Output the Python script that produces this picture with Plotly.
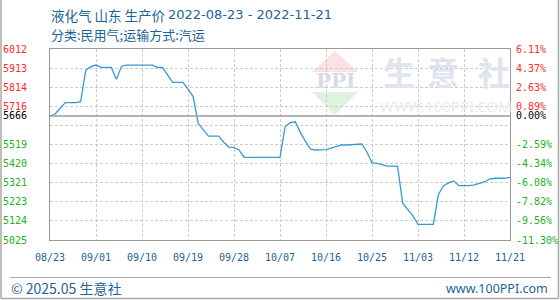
import plotly.graph_objects as go
from datetime import date, timedelta

# ---------------- data ----------------
start_date = "2022-08-23"
prices = [
    5666, 5676, 5706, 5735, 5735, 5735, 5740, 5903, 5921, 5929,
    5917, 5917, 5917, 5855, 5923, 5929, 5929, 5929, 5929, 5929,
    5929, 5917, 5917, 5878, 5840, 5840, 5840, 5805, 5766, 5628,
    5595, 5562, 5562, 5562, 5530, 5505, 5502, 5490, 5452, 5452,
    5452, 5452, 5452, 5452, 5452, 5452, 5611, 5631, 5636, 5580,
    5535, 5494, 5490, 5490, 5492, 5500, 5510, 5516, 5516, 5518,
    5520, 5521, 5480, 5425, 5421, 5412, 5407, 5407, 5407, 5215,
    5180, 5150, 5106, 5106, 5106, 5106, 5260, 5306, 5320, 5330,
    5306, 5306, 5306, 5310, 5316, 5325, 5340, 5344, 5344, 5344,
    5349,
]
base_price = 5666
y_ticks = [6012, 5913, 5814, 5716, 5666, 5617, 5519, 5420, 5321, 5223, 5124, 5025]
y_left_labels = ["6012", "5913", "5814", "5716", "5666", "", "5519", "5420", "5321", "5223", "5124", "5025"]
y_right_labels = ["6.11%", "4.37%", "2.63%", "0.89%", "0.00%", "", "-2.59%", "-4.34%", "-6.08%", "-7.82%", "-9.56%", "-11.30%"]
x_tick_labels = ["08/23", "09/01", "09/10", "09/19", "09/28", "10/07", "10/16", "10/25", "11/03", "11/12", "11/21"]

title_name = "液化气 山东 生产价"
title_dates = "2022-08-23 - 2022-11-21"
title_line2 = "分类:民用气;运输方式:汽运"
footer_left = "© 2025.05 生意社"
footer_right = "www.100PPI.com"

# ---------------- build ----------------
d0 = date.fromisoformat(start_date)
dates = [d0 + timedelta(days=i) for i in range(len(prices))]
x_tick_vals = [d0 + timedelta(days=9 * i) for i in range(len(x_tick_labels))]

RED, GREEN, BLACK = "#ff2a2a", "#22b122", "#000000"


def col(v):
    if v > base_price:
        return RED
    if v < base_price:
        return GREEN
    return BLACK


left_text = [f'<span style="color:{col(v)}">{t}</span>' for v, t in zip(y_ticks, y_left_labels)]
right_text = [f'<span style="color:{col(v)}">{t}</span>' for v, t in zip(y_ticks, y_right_labels)]

LINE = "#3b97d8"
BLUE_TXT = "#1d6496"
GRID = "#cccccc"
BORDER = "#9a9a9a"

fig = go.Figure()
fig.add_trace(go.Scatter(x=dates, y=prices, mode="lines",
                         line=dict(color=LINE, width=1.3), showlegend=False,
                         hoverinfo="skip"))
fig.add_trace(go.Scatter(x=dates, y=prices, mode="lines", yaxis="y2",
                         line=dict(color="rgba(0,0,0,0)", width=0), showlegend=False,
                         hoverinfo="skip"))

W, H = 560, 300
L, R, T, B = 50, 50, 49, 60
pw, ph = W - L - R, H - T - B


def px(x):
    return (x - L) / pw


def py(y):
    return (H - B - y) / ph


tick_font = dict(family="DejaVu Sans Mono", size=10)

fig.update_layout(
    width=W, height=H,
    margin=dict(l=L, r=R, t=T, b=B, pad=0, autoexpand=False),
    paper_bgcolor="white", plot_bgcolor="white",
    xaxis=dict(
        type="date",
        range=[dates[0], dates[-1]],
        tickvals=x_tick_vals, ticktext=x_tick_labels,
        tickfont=dict(family="DejaVu Sans Mono", size=10, color=BLUE_TXT),
        tickangle=0,
        ticks="outside", ticklen=8, tickcolor="rgba(0,0,0,0)",
        showgrid=True, gridcolor=GRID, griddash="3px,2px", gridwidth=1,
        showline=True, mirror=True, linecolor=BORDER, linewidth=1,
        zeroline=False, fixedrange=True, automargin=False,
    ),
    yaxis=dict(
        range=[5025, 6012],
        tickvals=y_ticks, ticktext=left_text,
        tickfont=tick_font,
        ticks="outside", ticklen=20, tickcolor="rgba(0,0,0,0)",
        showgrid=True, gridcolor=GRID, griddash="3px,2px", gridwidth=1,
        showline=True, mirror=True, linecolor=BORDER, linewidth=1,
        zeroline=False, fixedrange=True, automargin=False,
    ),
    yaxis2=dict(
        range=[5025, 6012], overlaying="y", side="right", anchor="x",
        tickvals=y_ticks, ticktext=right_text,
        tickfont=tick_font,
        ticks="outside", ticklen=3, tickcolor="rgba(0,0,0,0)",
        showgrid=False, zeroline=False, showline=False, fixedrange=True,
        automargin=False,
    ),
)

shapes = []
# baseline at base price
shapes.append(dict(type="line", xref="paper", yref="y", x0=0, x1=1,
                   y0=base_price, y1=base_price,
                   line=dict(color="#a0a0a0", width=1.5), layer="above"))
# watermark logo triangles
shapes.append(dict(type="path", xref="paper", yref="paper",
                   path=f"M {px(312)} {py(72)} L {px(335)} {py(51)} L {px(358)} {py(72)} Z",
                   fillcolor="#fbe1e1", line=dict(width=0), layer="below"))
shapes.append(dict(type="path", xref="paper", yref="paper",
                   path=f"M {px(312)} {py(92)} L {px(335)} {py(115)} L {px(358)} {py(92)} Z",
                   fillcolor="#e0f1e0", line=dict(width=0), layer="below"))
# footer separator
shapes.append(dict(type="line", xref="paper", yref="paper",
                   x0=px(10), x1=px(551), y0=py(277.5), y1=py(277.5),
                   line=dict(color="#a8a8a8", width=1)))
# outer frame (left, right, bottom)
shapes.append(dict(type="line", xref="paper", yref="paper",
                   x0=px(1), x1=px(1), y0=py(0), y1=py(298.5),
                   line=dict(color="#a8a8a8", width=1.5)))
shapes.append(dict(type="line", xref="paper", yref="paper",
                   x0=px(558.5), x1=px(558.5), y0=py(0), y1=py(298.5),
                   line=dict(color="#a8a8a8", width=1.5)))
shapes.append(dict(type="line", xref="paper", yref="paper",
                   x0=px(1), x1=px(558.5), y0=py(298.5), y1=py(298.5),
                   line=dict(color="#a8a8a8", width=1.5)))
fig.update_layout(shapes=shapes)

ann = []
cjk = "Noto Sans CJK SC"
ann.append(dict(text=title_name, xref="paper", yref="paper", x=px(49), y=py(15),
                xanchor="left", yanchor="middle", showarrow=False,
                font=dict(family=cjk, size=13.5, color=BLUE_TXT)))
ann.append(dict(text=title_dates, xref="paper", yref="paper", x=px(166), y=py(15),
                xanchor="left", yanchor="middle", showarrow=False,
                font=dict(family="DejaVu Sans", size=13, color=BLUE_TXT)))
ann.append(dict(text=title_line2, xref="paper", yref="paper", x=px(49), y=py(34),
                xanchor="left", yanchor="middle", showarrow=False,
                font=dict(family=cjk, size=13, color=BLUE_TXT)))
ann.append(dict(text=footer_left, xref="paper", yref="paper", x=px(9), y=py(288),
                xanchor="left", yanchor="middle", showarrow=False,
                font=dict(family=cjk, size=14, color=BLUE_TXT)))
ann.append(dict(text=footer_right, xref="paper", yref="paper", x=px(550), y=py(288),
                xanchor="right", yanchor="middle", showarrow=False,
                font=dict(family="Noto Sans", size=12.5, color=BLUE_TXT)))
# watermark text
for ch, cx in zip(["生", "意", "社"], [399, 443, 494]):
    ann.append(dict(text=f"<b>{ch}</b>", xref="paper", yref="paper", x=px(cx), y=py(71),
                    xanchor="center", yanchor="middle", showarrow=False,
                    font=dict(family=cjk, size=32, color="#dfe4ee")))
ann.append(dict(text="WWW.100PPI.COM", xref="paper", yref="paper", x=px(446), y=py(106),
                xanchor="center", yanchor="middle", showarrow=False,
                font=dict(family="Noto Sans", size=15, color="#ebebeb")))
ann.append(dict(text="<b>PPI</b>", xref="paper", yref="paper", x=px(335), y=py(81),
                xanchor="center", yanchor="middle", showarrow=False,
                font=dict(family="DejaVu Serif", size=20, color="#d4dbea")))
fig.update_layout(annotations=ann)

fig.write_html("out.html")
